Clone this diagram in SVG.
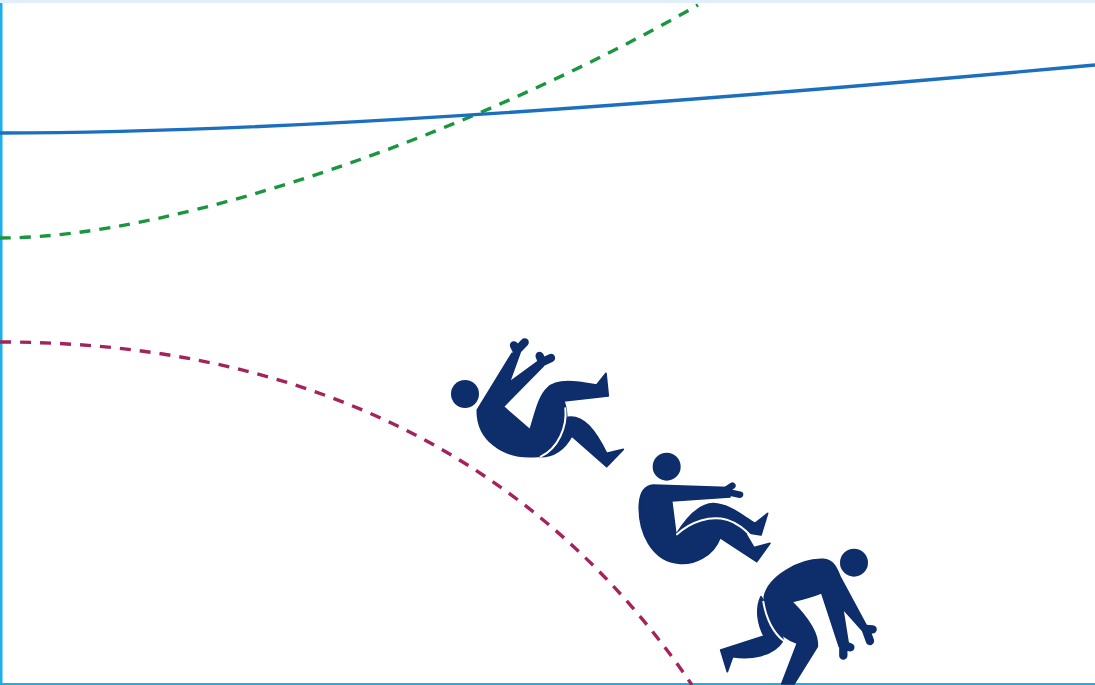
<svg xmlns="http://www.w3.org/2000/svg" width="1095" height="685" viewBox="0 0 1095 685">
<style>
.c{fill:none;stroke-width:3.4}
.d{stroke-dasharray:11 9}
.f{fill:#0e2d6b}
.b{stroke:#0e2d6b;stroke-width:5;stroke-linejoin:round}
.h{fill:none;stroke:#0e2d6b;stroke-width:25;stroke-linecap:round}
.g{fill:none;stroke:#fff;stroke-width:6;stroke-linecap:round}
</style>
<rect width="1095" height="685" fill="#fff"/>
<rect width="1095" height="3" fill="#dff0fc"/>
<rect x="0" y="3" width="2.5" height="682" fill="#1cb0ea"/>
<rect x="0" y="683" width="1095" height="2" fill="#1cb0ea"/>
<g id="curves">
<path class="c d" stroke="#a5235c" d="M0,342C280,342 525,440 692,685"/>
<path class="c d" stroke="#1a9640" d="M0,238C180,238 480,130 698,5"/>
<path class="c" stroke="#1c6fbe" d="M0,133C250,133 600,110 1095,65"/>
</g>
<g id="figure-1" class="f" transform="translate(440 330) scale(.3333)">
<circle cx="75" cy="192" r="42"/>
<path class="b" d="M112,240L216,70L240,68L208,157L293,95L310,108L190,230L270,300C285,255 295,200 322,175C350,145 410,155 470,165L498,130L505,198L372,213C385,250 385,300 360,340C340,370 320,380 280,380C190,385 110,330 112,240Z"/>
<path class="b" d="M300,380C345,372 378,325 384,262C430,255 465,300 500,370L550,358L500,410L395,318C375,355 345,380 300,380Z"/>
<path class="g" d="M376,235C382,290 355,355 302,380"/>
<path class="h" d="M222,46L230,62M254,37L230,62"/>
<path class="h" d="M299,78L306,96M333,84L306,97"/>
</g>
<g id="figure-2" class="f" transform="translate(630 445) scale(.3333)">
<circle cx="110" cy="65" r="42"/>
<path class="b" d="M70,120L295,128L300,156L125,168L138,270C165,225 205,178 250,176C300,178 340,215 375,235L413,205L393,270L345,262L372,308L420,295L380,350L270,278C250,335 190,358 150,355C65,350 25,260 28,180C30,140 45,122 70,120Z"/>
<path class="g" d="M141,268C185,228 240,212 290,224C325,235 345,255 362,272"/>
<path class="h" style="stroke-width:20" d="M292,132L307,122M295,142L330,149"/>
</g>
<g id="figure-3" class="f" transform="translate(710 540) scale(.3333)">
<circle cx="432" cy="68" r="42"/>
<path class="b" d="M153,170C135,210 145,255 162,288L32,330L52,395L68,350C120,358 190,350 220,300L200,240Z"/>
<path class="b" d="M163,170C175,110 270,55 340,58C370,60 380,85 390,110L472,262L458,272L398,205L415,312L388,320L335,158C305,170 275,178 245,185C290,230 325,280 322,320L252,432H215L262,310C205,290 160,230 163,170Z"/>
<path class="g" d="M160,185C168,235 190,280 222,303"/>
<path class="h" d="M468,267L488,268M468,270L480,303"/>
<path class="h" d="M402,315L421,322M400,320L400,347"/>
</g>
</svg>
